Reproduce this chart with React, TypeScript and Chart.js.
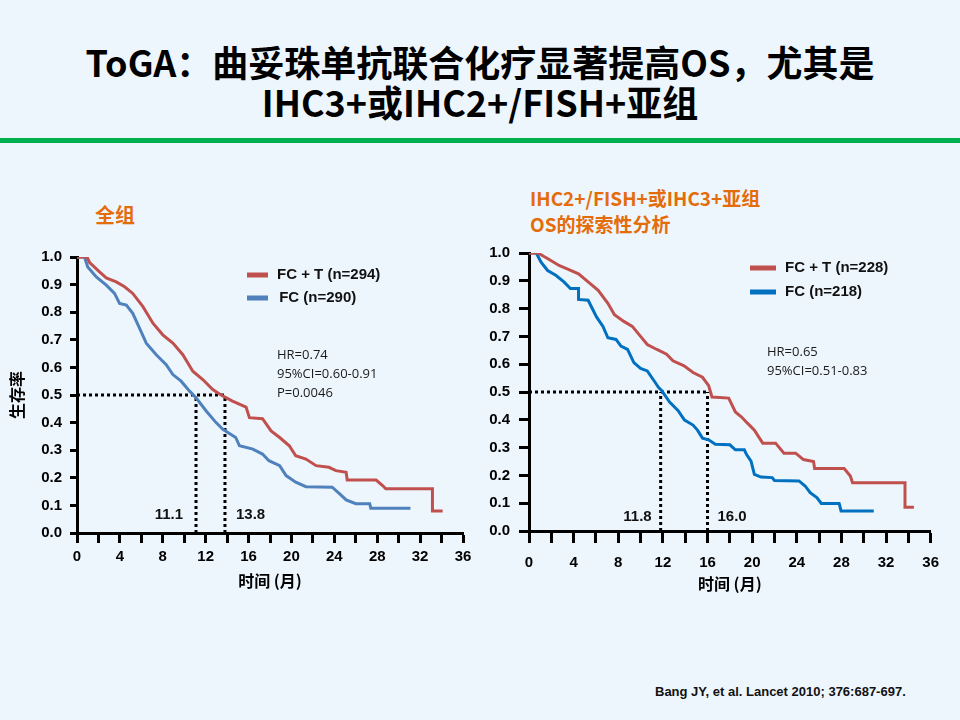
import React, { useEffect, useRef } from "react"
import { Chart, registerables } from "chart.js"

Chart.register(...registerables)

// 全组 (all patients)
const allFcTMonths = [0, 0.93, 1.18, 2.1, 2.73, 3.66, 4.44, 5.2, 6.15, 7.08, 8.0, 8.94, 9.87, 10.8, 11.73, 12.66, 13.44, 14.5, 15.77, 16.08, 17.3, 18.1, 18.9, 19.8, 20.4, 21.35, 22.3, 23.5, 24.15, 25.1, 25.2, 27.9, 28.5, 28.8, 33.15, 33.15, 34.1]
const allFcTSurv = [1.0, 1.0, 0.98, 0.946, 0.924, 0.91, 0.892, 0.868, 0.82, 0.76, 0.718, 0.688, 0.646, 0.586, 0.556, 0.52, 0.5, 0.478, 0.456, 0.418, 0.414, 0.37, 0.346, 0.316, 0.28, 0.268, 0.244, 0.238, 0.226, 0.22, 0.192, 0.192, 0.172, 0.16, 0.16, 0.08, 0.08]
const allFcMonths = [0, 0.7, 1.0, 1.8, 2.73, 3.5, 3.97, 4.6, 5.2, 5.83, 6.46, 7.39, 8.32, 8.94, 9.71, 10.5, 11.1, 12.05, 12.97, 13.6, 14.8, 15.15, 16.4, 17.3, 17.9, 18.9, 19.5, 20.4, 21.35, 23.8, 24.5, 25.1, 26.0, 27.3, 27.4, 31.1]
const allFcSurv = [1.0, 1.0, 0.964, 0.928, 0.898, 0.868, 0.832, 0.826, 0.796, 0.742, 0.688, 0.646, 0.61, 0.574, 0.55, 0.514, 0.49, 0.442, 0.4, 0.376, 0.346, 0.316, 0.304, 0.286, 0.262, 0.244, 0.208, 0.184, 0.168, 0.166, 0.142, 0.12, 0.106, 0.106, 0.09, 0.09]
const allMedians = [11.1, 13.8]
const allLegend = ["FC + T (n=294)", " FC (n=290)"]
const allStats = ["HR=0.74", "95%CI=0.60-0.91", "P=0.0046"]

// IHC2+/FISH+ 或 IHC3+ 亚组
const subFcTMonths = [0, 0.8, 1.23, 1.96, 2.69, 3.42, 4.44, 5.3, 6.2, 7.07, 7.66, 8.5, 9.26, 10.0, 10.6, 11.46, 12.33, 12.9, 13.9, 14.7, 15.55, 16.1, 16.4, 17.9, 18.5, 19.05, 19.6, 20.2, 20.95, 22.1, 22.85, 23.9, 24.6, 25.5, 25.6, 28.25, 28.8, 29.0, 33.7, 33.7, 34.5]
const subFcTSurv = [1.0, 1.0, 0.99, 0.973, 0.955, 0.943, 0.925, 0.896, 0.866, 0.819, 0.778, 0.754, 0.736, 0.7, 0.671, 0.653, 0.636, 0.612, 0.594, 0.57, 0.553, 0.523, 0.482, 0.478, 0.428, 0.41, 0.387, 0.363, 0.316, 0.316, 0.28, 0.28, 0.257, 0.25, 0.225, 0.225, 0.198, 0.174, 0.174, 0.085, 0.085]
const subFcMonths = [0, 0.65, 1.08, 1.67, 2.4, 3.13, 3.71, 4.44, 4.44, 5.3, 6.05, 6.63, 7.07, 7.8, 8.24, 8.83, 9.4, 10.0, 10.6, 11.3, 11.6, 11.9, 12.6, 13.35, 13.94, 14.7, 15.1, 15.55, 16.1, 16.7, 18.0, 18.5, 19.3, 19.5, 19.9, 20.2, 20.8, 21.8, 22.0, 24.2, 24.75, 25.2, 25.8, 26.2, 27.8, 27.97, 30.9]
const subFcSurv = [1.0, 1.0, 0.967, 0.937, 0.92, 0.896, 0.872, 0.872, 0.833, 0.83, 0.77, 0.736, 0.695, 0.689, 0.665, 0.653, 0.606, 0.585, 0.576, 0.535, 0.517, 0.505, 0.464, 0.434, 0.399, 0.381, 0.363, 0.334, 0.328, 0.312, 0.31, 0.292, 0.292, 0.275, 0.251, 0.204, 0.194, 0.192, 0.182, 0.18, 0.162, 0.138, 0.12, 0.099, 0.099, 0.072, 0.072]
const subMedians = [11.8, 16.0]
const subLegend = ["FC + T (n=228)", "FC (n=218)"]
const subStats = ["HR=0.65", "95%CI=0.51-0.83"]

const xTicksMax = 36
const xTickStep = 2
const xLabelStep = 4

const RED = "#C0504D"
const ARIAL = "'Liberation Sans', Arial, sans-serif"
const CJK = "'Noto Sans CJK SC', 'Liberation Sans', sans-serif"

const toPoints = (t: number[], s: number[]) => t.map((x, i) => ({ x, y: s[i] }))

interface PanelProps {
  box: { left: number; top: number; width: number; height: number }
  yAxisWidth: number
  xAxisHeight: number
  pad: { top: number; right: number }
  fcT: { x: number; y: number }[]
  fc: { x: number; y: number }[]
  blue: string
  medians: number[]
  legend: string[]
  stats: string[]
  yTitle?: string
  yTick: { length: number; padding: number }
  xTick: { length: number; padding: number }
  titlePad: number
  note: {
    legendX: number
    legendLen: number
    legendTextX: number[]
    legendY: number[]
    statsX: number
    statsY: number
    statsGap: number
    medianGap: number[]
    medianY: number
  }
}

const KMPanel: React.FC<PanelProps> = (p) => {
  const canvasRef = useRef<HTMLCanvasElement>(null)

  useEffect(() => {
    if (!canvasRef.current) return
    const [m1, m2] = p.medians
    const dotted = {
      borderColor: "#000",
      borderWidth: 3,
      borderDash: [3, 3],
      pointRadius: 0,
      fill: false,
    }

    const notes = {
      id: "notes",
      afterDatasetsDraw(chart: any) {
        const { ctx, chartArea: a, scales } = chart
        const n = p.note
        ctx.save()
        // legend
        ;[RED, p.blue].forEach((c, i) => {
          const y = a.top + n.legendY[i]
          ctx.strokeStyle = c
          ctx.lineWidth = 5
          ctx.beginPath()
          ctx.moveTo(a.left + n.legendX, y)
          ctx.lineTo(a.left + n.legendX + n.legendLen, y)
          ctx.stroke()
          ctx.fillStyle = "#111"
          ctx.font = `bold 15px ${ARIAL}`
          ctx.textBaseline = "middle"
          ctx.textAlign = "left"
          ctx.fillText(p.legend[i], a.left + n.legendTextX[i], y)
        })
        // HR / CI / P
        ctx.font = `13px 'Open Sans', sans-serif`
        ctx.fillStyle = "#1a1a1a"
        p.stats.forEach((s, i) => {
          ctx.fillText(s, a.left + n.statsX, a.top + n.statsY + i * n.statsGap)
        })
        // median labels
        ctx.font = `bold 15px ${ARIAL}`
        ctx.fillStyle = "#111"
        const y = a.bottom - n.medianY
        ctx.textAlign = "right"
        ctx.fillText(m1.toFixed(1), scales.x.getPixelForValue(m1) - n.medianGap[0], y)
        ctx.textAlign = "left"
        ctx.fillText(m2.toFixed(1), scales.x.getPixelForValue(m2) + n.medianGap[1], y)
        ctx.restore()
      },
    }

    const chart = new Chart(canvasRef.current.getContext("2d")!, {
      type: "line",
      data: {
        datasets: [
          { data: p.fcT, borderColor: RED, borderWidth: 3, pointRadius: 0, tension: 0, fill: false },
          { data: p.fc, borderColor: p.blue, borderWidth: 3, pointRadius: 0, tension: 0, fill: false },
          { data: [{ x: 0, y: 0.5 }, { x: m2, y: 0.5 }], ...dotted },
          { data: [{ x: m1, y: 0 }, { x: m1, y: 0.5 }], ...dotted },
          { data: [{ x: m2, y: 0 }, { x: m2, y: 0.5 }], ...dotted },
        ],
      },
      options: {
        animation: false,
        responsive: true,
        maintainAspectRatio: false,
        layout: { padding: { top: p.pad.top, right: p.pad.right, left: 0, bottom: 0 } },
        plugins: { legend: { display: false }, tooltip: { enabled: false } },
        scales: {
          x: {
            type: "linear",
            min: 0,
            max: xTicksMax,
            ticks: {
              stepSize: xTickStep,
              autoSkip: false,
              maxRotation: 0,
              padding: p.xTick.padding,
              color: "#000",
              font: { family: ARIAL, weight: "bold", size: 15 },
              callback: (v: any) => (Number(v) % xLabelStep === 0 ? String(v) : ""),
            },
            grid: { drawOnChartArea: false, drawTicks: true, tickLength: p.xTick.length, tickWidth: 3, tickColor: "#000" },
            border: { color: "#000", width: 3 },
            title: {
              display: true,
              text: "时间 (月)",
              color: "#000",
              font: { family: CJK, weight: "bold", size: 16 },
              padding: { top: 0, bottom: p.titlePad },
            },
            afterFit: (s: any) => {
              s.height = p.xAxisHeight
            },
          },
          y: {
            min: 0,
            max: 1,
            ticks: {
              stepSize: 0.1,
              padding: p.yTick.padding,
              color: "#000",
              font: { family: ARIAL, weight: "bold", size: 15 },
              callback: (v: any) => Number(v).toFixed(1),
            },
            grid: { drawOnChartArea: false, drawTicks: true, tickLength: p.yTick.length, tickWidth: 3, tickColor: "#000" },
            border: { color: "#000", width: 3 },
            title: {
              display: !!p.yTitle,
              text: p.yTitle || "",
              color: "#000",
              font: { family: CJK, weight: "bold", size: 16 },
              padding: 2,
            },
            afterFit: (s: any) => {
              s.width = p.yAxisWidth
            },
          },
        },
      } as any,
      plugins: [notes],
    })

    return () => {
      chart.destroy()
    }
  }, [])

  return (
    <div style={{ position: "absolute", ...p.box }}>
      <canvas ref={canvasRef} />
    </div>
  )
}

const App: React.FC = () => {
  return (
    <div
      style={{
        position: "absolute",
        left: 0,
        top: 0,
        width: 960,
        height: 720,
        background: "#EEF6FD",
        overflow: "hidden",
      }}
    >
      <div
        style={{
          position: "absolute",
          top: 41,
          left: 0,
          width: 960,
          textAlign: "center",
          fontFamily: CJK,
          fontWeight: "bold",
          fontSize: 36,
          lineHeight: "40px",
          color: "#000",
        }}
      >
        ToGA：曲妥珠单抗联合化疗显著提高OS，尤其是
        <br />
        IHC3+或IHC2+/FISH+亚组
      </div>
      <div style={{ position: "absolute", top: 138, left: 0, width: 960, height: 5, background: "#00B050" }} />

      <div
        style={{
          position: "absolute",
          left: 95,
          top: 203,
          fontFamily: CJK,
          fontWeight: "bold",
          fontSize: 20,
          lineHeight: "24px",
          color: "#E46C0A",
        }}
      >
        全组
      </div>
      <div
        style={{
          position: "absolute",
          left: 530,
          top: 185,
          fontFamily: CJK,
          fontWeight: "bold",
          fontSize: 19,
          lineHeight: "26px",
          color: "#E46C0A",
        }}
      >
        IHC2+/FISH+或IHC3+亚组
        <br />
        OS的探索性分析
      </div>

      <KMPanel
        box={{ left: 5, top: 240, width: 475, height: 352 }}
        yAxisWidth={72}
        xAxisHeight={59}
        pad={{ top: 15, right: 17 }}
        fcT={toPoints(allFcTMonths, allFcTSurv)}
        fc={toPoints(allFcMonths, allFcSurv)}
        blue="#4F81BD"
        medians={allMedians}
        legend={allLegend}
        stats={allStats}
        yTitle="生存率"
        yTick={{ length: 7, padding: 8 }}
        xTick={{ length: 10, padding: 5 }}
        titlePad={1}
        note={{
          legendX: 170,
          legendLen: 21,
          legendTextX: [200, 198],
          legendY: [18, 41],
          statsX: 200,
          statsY: 98,
          statsGap: 19,
          medianGap: [13, 11],
          medianY: 18,
        }}
      />
      <KMPanel
        box={{ left: 480, top: 235, width: 470, height: 359 }}
        yAxisWidth={49}
        xAxisHeight={63}
        pad={{ top: 14, right: 10 }}
        fcT={toPoints(subFcTMonths, subFcTSurv)}
        fc={toPoints(subFcMonths, subFcSurv)}
        blue="#0070C0"
        medians={subMedians}
        legend={subLegend}
        stats={subStats}
        yTick={{ length: 10, padding: 9 }}
        xTick={{ length: 12, padding: 11 }}
        titlePad={0}
        note={{
          legendX: 221,
          legendLen: 26,
          legendTextX: [256, 256],
          legendY: [15, 39],
          statsX: 238,
          statsY: 99,
          statsGap: 19,
          medianGap: [9, 10],
          medianY: 14,
        }}
      />

      <div
        style={{
          position: "absolute",
          left: 655,
          top: 684,
          fontFamily: ARIAL,
          fontWeight: "bold",
          fontSize: 13,
          lineHeight: "16px",
          color: "#111",
          whiteSpace: "nowrap",
        }}
      >
        Bang JY, et al. Lancet 2010; 376:687-697.
      </div>
    </div>
  )
}

export default App
